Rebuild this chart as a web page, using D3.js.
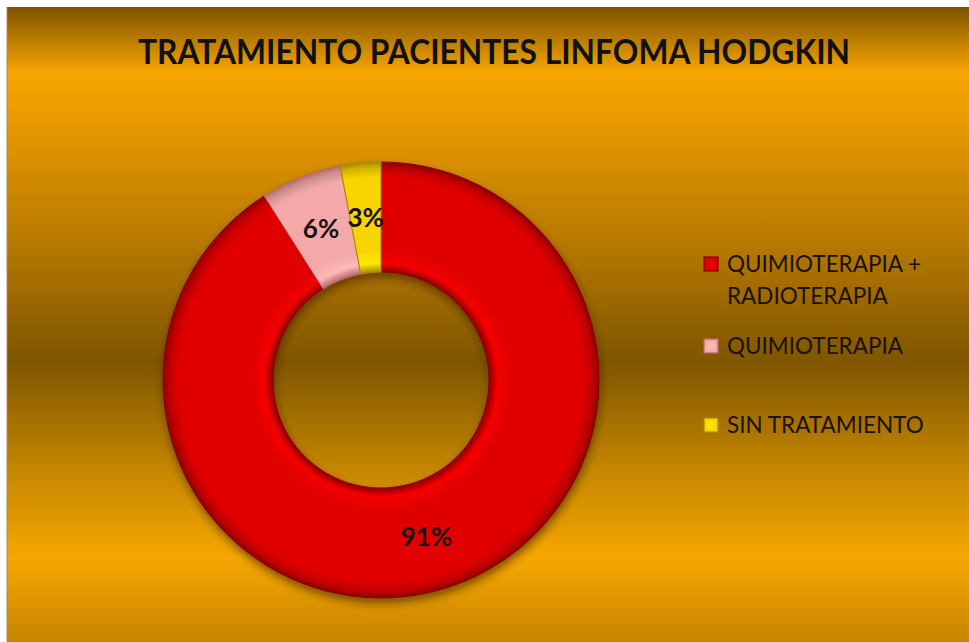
<!DOCTYPE html>
<html>
<head>
<meta charset="utf-8">
<script src="https://cdn.jsdelivr.net/npm/d3@7"></script>
<style>
  html, body { margin: 0; padding: 0; background: #ffffff; }
  svg { display: block; }
</style>
</head>
<body>
<script>
const categories = ["QUIMIOTERAPIA + RADIOTERAPIA", "QUIMIOTERAPIA", "SIN TRATAMIENTO"];
const legendLines = [["QUIMIOTERAPIA +", "RADIOTERAPIA"], ["QUIMIOTERAPIA"], ["SIN TRATAMIENTO"]];
const values = [91, 6, 3];
const labels = ["91%", "6%", "3%"];
const colors = ["#e00000", "#f4a8a8", "#f8d400"];
const darkColors = ["#8a0000", "#b86a6a", "#a88a00"];
const title = "TRATAMIENTO PACIENTES LINFOMA HODGKIN";

const W = 969, H = 642;
const svg = d3.select("body").append("svg").attr("width", W).attr("height", H);
const defs = svg.append("defs");

// background gradient
const bg = defs.append("linearGradient").attr("id", "bg").attr("x1", 0).attr("y1", 0).attr("x2", 0).attr("y2", 1);
[[0, "#7e5100"], [0.102, "#f6a500"], [0.2, "#e49600"], [0.37, "#b77900"], [0.56, "#7f5600"], [0.72, "#c28400"], [0.868, "#f6a700"], [1, "#c78500"]]
  .forEach(([o, c]) => bg.append("stop").attr("offset", o).attr("stop-color", c));

svg.append("rect").attr("x", 7).attr("y", 7).attr("width", W - 7).attr("height", H - 7).attr("fill", "url(#bg)");
svg.append("line").attr("x1", 7).attr("x2", 7).attr("y1", 7).attr("y2", H).attr("stroke", "#a08a70").attr("stroke-width", 1);

// title
svg.append("text")
  .attr("x", 494).attr("y", 64)
  .attr("text-anchor", "middle")
  .attr("font-family", "Lato, 'Open Sans', sans-serif")
  .attr("font-weight", 700)
  .attr("font-size", 34)
  .attr("fill", "#111")
  .attr("textLength", 712)
  .attr("lengthAdjust", "spacingAndGlyphs")
  .text(title);

// donut
const cx = 381, cy = 380, rOuter = 218, rInner = 108;
const shadow = defs.append("filter").attr("id", "shadow").attr("x", "-20%").attr("y", "-20%").attr("width", "140%").attr("height", "140%");
shadow.append("feDropShadow").attr("dx", 1).attr("dy", 5).attr("stdDeviation", 4)
  .attr("flood-color", "#3a2200").attr("flood-opacity", 0.6);

colors.forEach((c, i) => {
  const g = defs.append("radialGradient").attr("id", "grad" + i)
    .attr("gradientUnits", "userSpaceOnUse").attr("cx", 0).attr("cy", 0).attr("r", rOuter);
  const light = d3.color(c).brighter(0.25).formatHex();
  [[rInner / rOuter, darkColors[i]], [rInner / rOuter + 0.04, light], [0.6, c], [0.93, c], [0.975, d3.color(c).darker(0.5).formatHex()], [1, darkColors[i]]]
    .forEach(([o, col]) => g.append("stop").attr("offset", o).attr("stop-color", col));
});

const pie = d3.pie().sort(null).value(d => d)(values);
const arc = d3.arc().innerRadius(rInner).outerRadius(rOuter);
const labelArc = d3.arc().innerRadius((rInner + rOuter) / 2).outerRadius((rInner + rOuter) / 2);

const gd = svg.append("g").attr("transform", `translate(${cx},${cy})`);
const slices = gd.append("g").attr("filter", "url(#shadow)");
slices.selectAll("path").data(pie).join("path")
  .attr("d", arc)
  .attr("fill", (d, i) => `url(#grad${i})`)
  .attr("stroke", (d, i) => darkColors[i])
  .attr("stroke-width", 1)
  .attr("stroke-linejoin", "round");

gd.selectAll("text.lbl").data(pie).join("text")
  .attr("class", "lbl")
  .attr("x", d => labelArc.centroid(d)[0])
  .attr("y", d => labelArc.centroid(d)[1])
  .attr("dy", "0.35em")
  .attr("text-anchor", "middle")
  .attr("font-family", "Lato, 'Open Sans', sans-serif")
  .attr("font-weight", 700)
  .attr("font-size", 26)
  .attr("fill", "#1a1010")
  .text((d, i) => labels[i]);

// legend
const legendY = [264, 346, 425];
const lg = svg.append("g");
legendLines.forEach((lines, i) => {
  const y = legendY[i];
  lg.append("rect").attr("x", 704).attr("y", y - 7).attr("width", 14).attr("height", 14)
    .attr("fill", colors[i]).attr("stroke", darkColors[i]).attr("stroke-width", 1.2);
  lg.append("rect").attr("x", 707).attr("y", y - 4).attr("width", 8).attr("height", 8)
    .attr("fill", d3.color(colors[i]).brighter(0.3).formatHex()).attr("opacity", 0.6);
  lines.forEach((t, j) => {
    lg.append("text")
      .attr("x", 727).attr("y", y + 8 + j * 32)
      .attr("font-family", "Lato, 'Open Sans', sans-serif")
      .attr("font-size", 22.5)
      .attr("fill", "#1a1208")
      .text(t);
  });
});
</script>
</body>
</html>
